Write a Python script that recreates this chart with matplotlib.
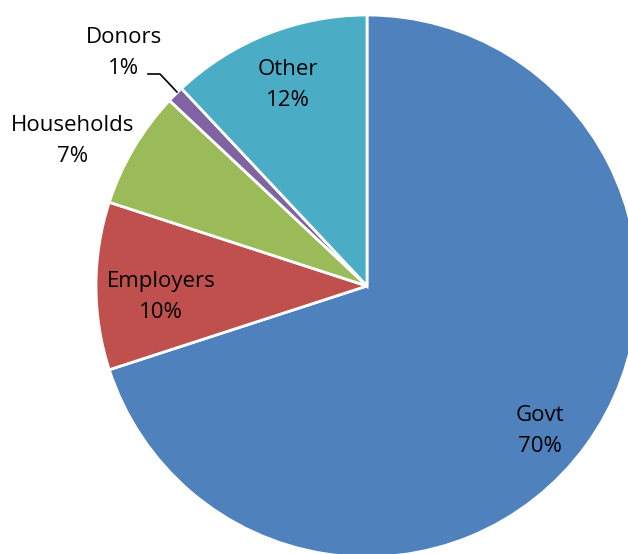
import matplotlib
matplotlib.use("Agg")
import matplotlib.pyplot as plt

categories = ["Govt", "Employers", "Households", "Donors", "Other"]
values = [70, 10, 7, 1, 12]
colors = ["#4F81BD", "#C0504D", "#9BBB59", "#8064A2", "#4BACC6"]

W, H = 628, 554
fig = plt.figure(figsize=(W/100, H/100), dpi=100)
ax = fig.add_axes([0, 0, 1, 1])
ax.set_xlim(0, W)
ax.set_ylim(0, H)
ax.set_aspect("equal")
ax.axis("off")

cx, cy, r = 367, H - 286, 271
ax.pie(values, colors=colors, startangle=90, counterclock=False,
       center=(cx, cy), radius=r, frame=True,
       wedgeprops=dict(edgecolor="white", linewidth=2))
ax.set_xlim(0, W)
ax.set_ylim(0, H)
ax.axis("off")

font = dict(family=["Open Sans", "DejaVu Sans"], fontsize=16, color="black",
            ha="center", va="center", linespacing=1.65)
label_pos = {
    "Govt": (540, H - 431),
    "Employers": (161, H - 297),
    "Households": (73, H - 141),
    "Donors": (124, H - 53),
    "Other": (288, H - 85),
}
for c, v in zip(categories, values):
    x, y = label_pos[c]
    ax.text(x, y, f"{c}\n{v}%", **font)

ax.plot([148, 160, 177], [H - 74, H - 74, H - 92], color="black", lw=1.2)

fig.savefig("out.png", dpi=100)
